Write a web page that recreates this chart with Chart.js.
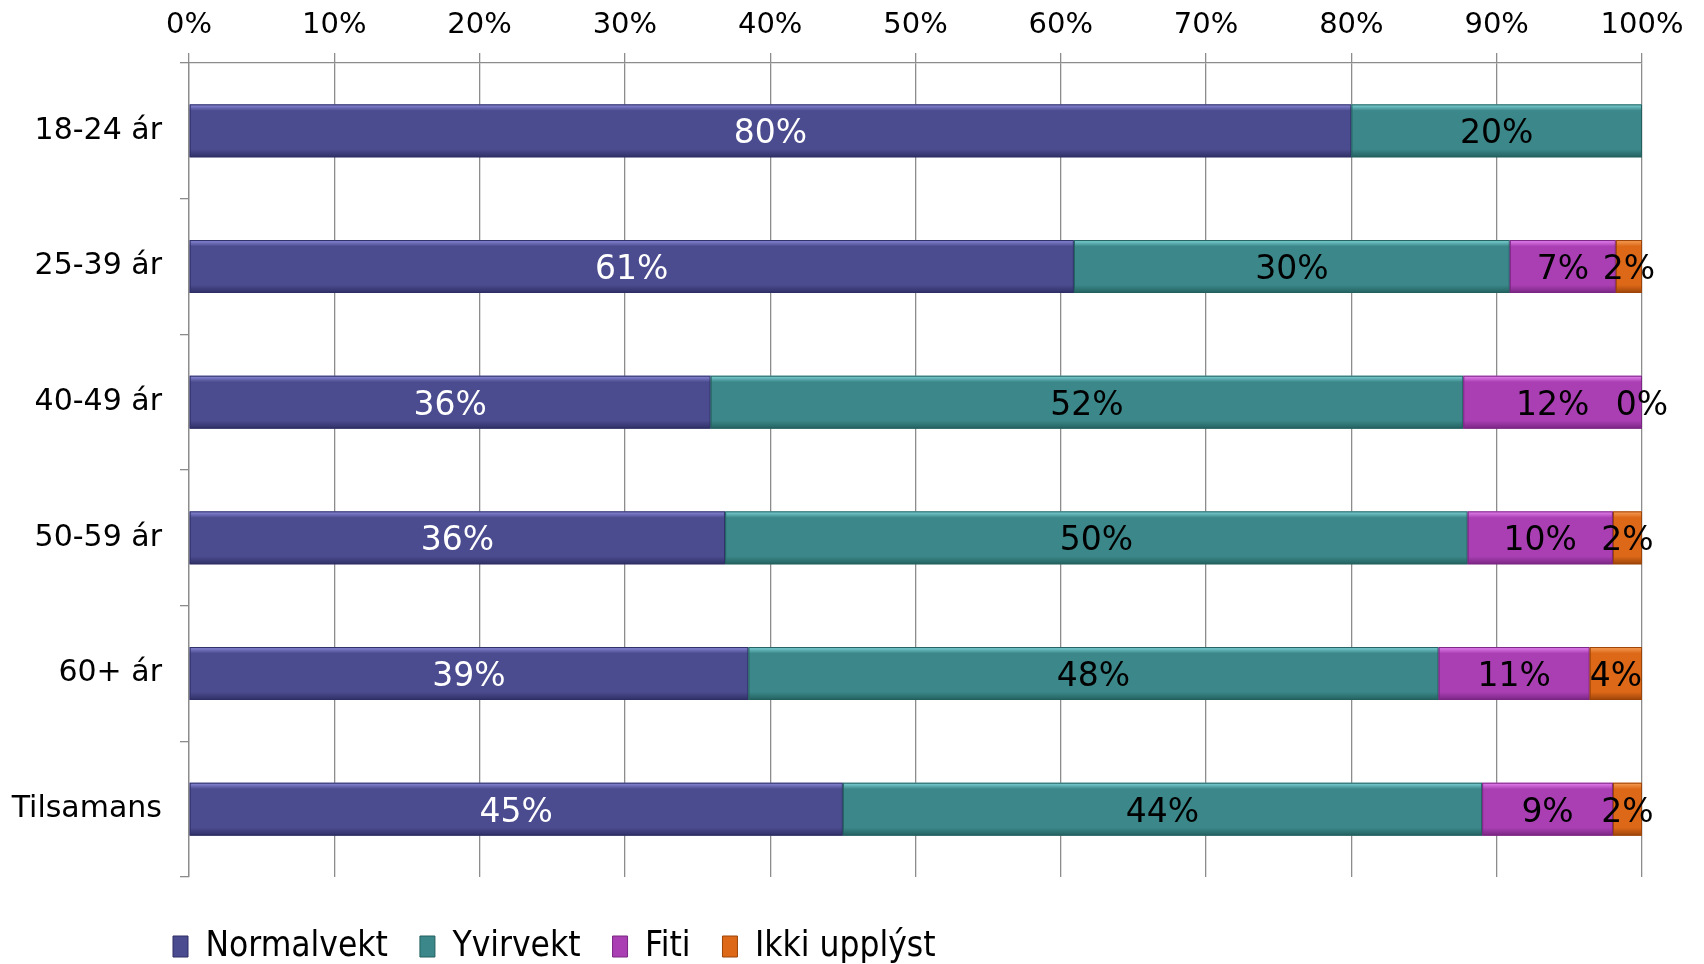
<!DOCTYPE html>
<html>
<head>
<meta charset="utf-8">
<script src="https://cdn.jsdelivr.net/npm/chart.js@4/dist/chart.umd.min.js"></script>
<style>
  html, body { margin: 0; padding: 0; background: #fff; }
  #wrap { width: 1704px; height: 964px; }
</style>
</head>
<body>
<div id="wrap"><canvas id="bmiChart"></canvas></div>
<script>
const categories = ['18-24 ár', '25-39 ár', '40-49 ár', '50-59 ár', '60+ ár', 'Tilsamans'];
const seriesNames = ['Normalvekt', 'Yvirvekt', 'Fiti', 'Ikki upplýst'];

// bar lengths (percent)
const normalvekt = [80, 60.9, 35.9, 36.9, 38.5, 45.0];
const yvirvekt = [20, 30.0, 51.8, 51.1, 47.5, 44.0];
const fiti = [0, 7.3, 12.3, 10.0, 10.4, 9.0];
const ikkiUpplyst = [0, 1.8, 0, 2.0, 3.6, 2.0];

// the printed labels on the bars
const normalvektLabels = [80, 61, 36, 36, 39, 45];
const yvirvektLabels = [20, 30, 52, 50, 48, 44];
const fitiLabels = [null, 7, 12, 10, 11, 9];
const ikkiLabels = [null, 2, 0, 2, 4, 2];

const xTicks = [0, 10, 20, 30, 40, 50, 60, 70, 80, 90, 100];

const colors = ['#4b4b8f', '#3b8789', '#a93fb3', '#dc6818'];
const highlights = ['#8c8cdc', '#80d6da', '#e884f2', '#f7a058'];
const borders = ['#2f2f66', '#23615f', '#7a2683', '#9c4408'];
const labelColors = ['#ffffff', '#000000', '#000000', '#000000'];

const values = [normalvekt, yvirvekt, fiti, ikkiUpplyst];
const labelSets = [normalvektLabels, yvirvektLabels, fitiLabels, ikkiLabels];

const FONT = "'DejaVu Sans', Verdana, sans-serif";

// light strip on top and a darker one at the bottom, to get the bevelled look
const bevelPlugin = {
  id: 'bevel',
  afterDatasetsDraw(chart) {
    const ctx = chart.ctx;
    chart.data.datasets.forEach((ds, i) => {
      const meta = chart.getDatasetMeta(i);
      meta.data.forEach(bar => {
        const left = Math.min(bar.x, bar.base);
        const w = Math.abs(bar.x - bar.base);
        if (w < 1) return;
        const top = bar.y - bar.height / 2;
        const h = bar.height;
        ctx.save();
        let g = ctx.createLinearGradient(0, top, 0, top + h);
        g.addColorStop(0, highlights[i]);
        g.addColorStop(0.12, colors[i]);
        g.addColorStop(0.85, colors[i]);
        g.addColorStop(1, borders[i]);
        ctx.fillStyle = g;
        ctx.fillRect(left, top, w, h);
        ctx.strokeStyle = borders[i];
        ctx.lineWidth = 1;
        ctx.strokeRect(left + 0.5, top + 0.5, w - 1, h - 1);
        ctx.restore();
      });
    });
  }
};

const barLabelPlugin = {
  id: 'barLabels',
  afterDatasetsDraw(chart) {
    const ctx = chart.ctx;
    ctx.save();
    ctx.font = '33px ' + FONT;
    ctx.textAlign = 'center';
    ctx.textBaseline = 'middle';
    chart.data.datasets.forEach((ds, i) => {
      const meta = chart.getDatasetMeta(i);
      meta.data.forEach((bar, j) => {
        const v = labelSets[i][j];
        if (v === null) return;
        ctx.fillStyle = labelColors[i];
        ctx.fillText(v + '%', (bar.x + bar.base) / 2, bar.y + 4);
      });
    });
    ctx.restore();
  }
};

// move the legend box (the legend clips to its own box, so move both edges)
const legendShift = {
  id: 'legendShift',
  afterLayout(chart) {
    const lg = chart.legend;
    lg.left += 141;
    lg.right += 141;
    lg.top += 20;
    lg.bottom += 20;
  }
};

new Chart(document.getElementById('bmiChart'), {
  type: 'bar',
  data: {
    labels: categories,
    datasets: seriesNames.map((name, i) => ({
      label: name,
      data: values[i],
      backgroundColor: colors[i],
      borderColor: borders[i],
      borderWidth: 1,
      barPercentage: 0.39,
      categoryPercentage: 1
    }))
  },
  options: {
    indexAxis: 'y',
    responsive: true,
    maintainAspectRatio: false,
    animation: false,
    layout: { padding: { left: 0, right: 62, top: 0, bottom: 10 } },
    scales: {
      x: {
        position: 'top',
        stacked: true,
        min: 0,
        max: 100,
        afterBuildTicks(scale) { scale.ticks = xTicks.map(v => ({ value: v })); },
        afterFit(scale) { scale.height = 63; },
        ticks: {
          color: '#000',
          font: { family: FONT, size: 29 },
          padding: 10,
          callback: v => v + '%'
        },
        grid: { color: '#8c8c8c', lineWidth: 1.3, tickLength: 10 },
        border: { display: true, color: '#8c8c8c', width: 1.3 }
      },
      y: {
        stacked: true,
        afterFit(scale) { scale.width = 189; },
        ticks: {
          color: '#000',
          font: { family: FONT, size: 30 },
          padding: 18
        },
        grid: { offset: true, drawOnChartArea: false, color: '#8c8c8c', lineWidth: 1.3, tickLength: 9 },
        border: { display: true, color: '#8c8c8c', width: 1.3 }
      }
    },
    plugins: {
      tooltip: { enabled: false },
      legend: {
        position: 'bottom',
        align: 'start',
        labels: {
          color: '#000',
          font: { family: "'DejaVu Sans Condensed', 'DejaVu Sans', sans-serif", size: 35 },
          boxWidth: 15,
          boxHeight: 21,
          padding: 32,
          generateLabels(chart) {
            return chart.data.datasets.map((ds, i) => ({
              text: ds.label,
              fillStyle: colors[i],
              strokeStyle: borders[i],
              lineWidth: 1,
              datasetIndex: i
            }));
          }
        }
      }
    }
  },
  plugins: [bevelPlugin, barLabelPlugin, legendShift]
});
</script>
</body>
</html>
